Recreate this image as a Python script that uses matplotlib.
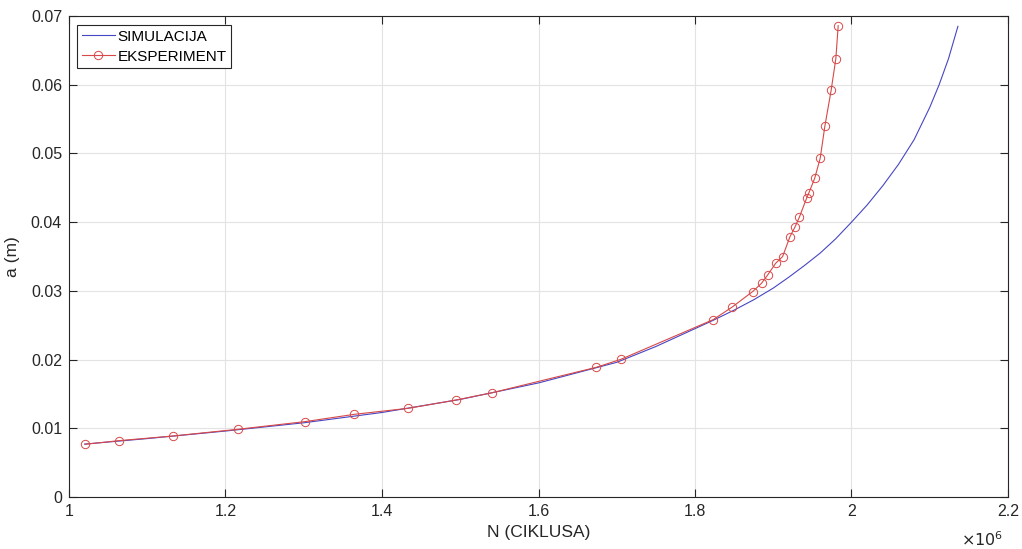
import matplotlib
matplotlib.use("Agg")
import matplotlib.pyplot as plt
from matplotlib.ticker import FixedLocator

# Simulation curve (N in 1e6 cycles, a in m)
sim_N = [1.02, 1.10, 1.20, 1.30, 1.40, 1.50, 1.60, 1.70, 1.75, 1.80, 1.823,
         1.85, 1.875, 1.90, 1.92, 1.94, 1.96, 1.98, 2.00, 2.02, 2.04, 2.06,
         2.08, 2.10, 2.112, 2.124, 2.136]
sim_a = [0.0077, 0.0085, 0.0096, 0.0108, 0.0123, 0.0142, 0.0166, 0.0196,
         0.0219, 0.0245, 0.0257, 0.0272, 0.0287, 0.0304, 0.0320, 0.0337,
         0.0355, 0.0376, 0.0400, 0.0425, 0.0453, 0.0484, 0.0520, 0.0567,
         0.0600, 0.0638, 0.0685]

# Experiment points
exp_N = [1.0204, 1.0639, 1.133, 1.2156, 1.3016, 1.3646, 1.4336, 1.494,
         1.541, 1.674, 1.7054, 1.823, 1.847, 1.8737, 1.885, 1.8928, 1.903,
         1.912, 1.9214, 1.9278, 1.9333, 1.9427, 1.9457, 1.953, 1.960,
         1.966, 1.974, 1.980, 1.983]
exp_a = [0.00767, 0.0082, 0.00888, 0.00985, 0.01097, 0.01203, 0.01291,
         0.01410, 0.01518, 0.01888, 0.02004, 0.0258, 0.0276, 0.0299, 0.0311,
         0.0323, 0.0340, 0.0350, 0.0379, 0.0393, 0.0407, 0.0435, 0.0443,
         0.0464, 0.0493, 0.0540, 0.0592, 0.0638, 0.0686]

x_ticks = [1.0, 1.2, 1.4, 1.6, 1.8, 2.0, 2.2]
x_tick_labels = ["1", "1.2", "1.4", "1.6", "1.8", "2", "2.2"]
y_ticks = [0, 0.01, 0.02, 0.03, 0.04, 0.05, 0.06, 0.07]
y_tick_labels = ["0", "0.01", "0.02", "0.03", "0.04", "0.05", "0.06", "0.07"]

plt.rcParams['font.family'] = ['Liberation Sans', 'DejaVu Sans']

fig = plt.figure(figsize=(10.22, 5.49), dpi=100)
ax = fig.add_axes([69/1022, 1-497/549, (1008-69)/1022, (497-16)/549])

ax.plot(sim_N, sim_a, color='#4646c4', lw=0.8, label='SIMULACIJA', zorder=3)
ax.plot(exp_N, exp_a, color='#d84848', lw=0.8, marker='o', markersize=6,
        markerfacecolor='none', markeredgewidth=0.7, label='EKSPERIMENT', zorder=4)

ax.set_xlim(1.0, 2.2)
ax.set_ylim(0, 0.07)
ax.xaxis.set_major_locator(FixedLocator(x_ticks))
ax.yaxis.set_major_locator(FixedLocator(y_ticks))
ax.set_xticklabels(x_tick_labels)
ax.set_yticklabels(y_tick_labels)

ax.grid(True, color='#e3e3e3', lw=0.8)
ax.set_axisbelow(True)
ax.tick_params(direction='in', top=True, right=True, length=6, width=0.8,
               colors='#262626', labelsize=11.5, pad=5)
for s in ax.spines.values():
    s.set_color('#262626')
    s.set_linewidth(0.8)

ax.set_xlabel('N (CIKLUSA)', fontsize=12.5, color='#262626', labelpad=4)
ax.set_ylabel('a (m)', fontsize=12.5, color='#262626', labelpad=8)

fig.text(1003/1022, 1-540/549, r'$\times10^{6}$', ha='right', va='center',
         fontsize=11.5, color='#262626')

leg = ax.legend(loc='upper left', bbox_to_anchor=(0.0085, 0.981),
                borderaxespad=0, fancybox=False, framealpha=1,
                edgecolor='#262626', fontsize=11, handlelength=2.2,
                handletextpad=0.15, borderpad=0.3, labelspacing=0.4)
leg.get_frame().set_linewidth(0.8)

fig.savefig('out.png', dpi=100)
